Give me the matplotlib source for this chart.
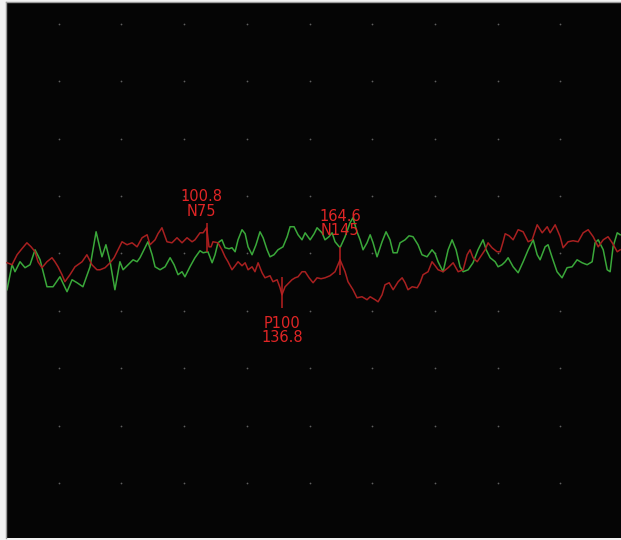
import numpy as np
import matplotlib.pyplot as plt

# -----------------------------
# Traces (latency in ms, amplitude in uV)
# -----------------------------
green_t = [5.3, 7.7, 9.1, 11.5, 13.9, 16.3, 18.7, 21.1, 24.4, 27.3, 30.6, 34.0, 36.4, 38.8,
           41.6, 45.0, 47.9, 50.7, 52.6, 54.6, 56.9, 59.3, 60.8, 63.2, 65.6, 67.5, 68.9, 70.8,
           72.7, 74.7, 76.1, 78.5, 80.9, 83.3, 85.2, 87.1, 89.0, 90.4, 92.8, 95.2, 97.6, 99.1,
           101.4, 103.4, 104.8, 106.2, 108.1, 109.6, 111.5, 112.9, 114.4, 115.8, 117.7, 119.2,
           120.6, 122.5, 124.4, 126.3, 127.8, 129.7, 131.1, 133.0, 134.9, 137.3, 139.3, 140.7,
           142.6, 144.5, 146.4, 147.9, 150.3, 152.2, 153.6, 156.0, 157.4, 159.3, 160.8, 162.2,
           164.6, 167.0, 169.4, 170.8, 172.7, 174.2, 175.6, 177.5, 179.0, 180.4, 182.3, 184.7,
           186.6, 188.5, 190.0, 191.9, 193.3, 195.7, 197.6, 199.5, 201.9, 203.8, 206.2, 208.6,
           210.1, 211.5, 213.9, 216.3, 218.2, 220.1, 222.0, 223.5, 225.9, 228.2, 230.6, 233.0,
           234.5, 236.4, 238.8, 240.2, 242.1, 243.6, 245.0, 247.4, 249.8, 252.2, 254.6, 257.0,
           258.9, 260.3, 262.7, 264.1, 266.1, 268.4, 270.8, 273.2, 275.6, 278.0, 280.4, 282.8,
           285.2, 286.6, 288.1, 290.5, 292.4, 293.8, 295.2, 297.2, 298.6]
green_v = [-3.17, -0.99, -1.60, -0.73, -1.25, -0.99, 0.31, -0.56, -2.91, -2.91, -2.04, -3.34,
           -2.30, -2.56, -2.91, -1.17, 1.88, -0.30, 0.75, -0.73, -3.17, -0.73, -1.43, -0.99,
           -0.56, -0.73, -0.38, 0.31, 1.01, -0.12, -1.17, -1.43, -1.17, -0.38, -0.99, -1.86,
           -1.60, -2.04, -1.17, -0.38, 0.23, 0.05, 0.14, -0.82, -0.12, 0.92, 1.18, 0.49, 0.40,
           0.49, 0.14, 1.18, 2.06, 1.71, 0.57, -0.12, 0.75, 1.88, 1.36, 0.31, -0.30, -0.12, 0.31,
           0.57, 1.45, 2.32, 2.32, 1.62, 1.18, 1.79, 1.18, 1.71, 2.23, 1.79, 1.18, 1.45, 1.79,
           1.01, 0.49, 1.45, 2.67, 3.10, 1.88, 1.18, 0.31, 0.92, 1.62, 0.92, -0.30, 1.01, 1.88,
           1.18, 0.05, 0.05, 0.92, 1.18, 1.53, 1.45, 0.75, -0.12, -0.30, 0.31, -0.03, -0.73,
           -1.60, 0.31, 1.18, 0.31, -1.17, -1.60, -1.43, -0.82, 0.31, 1.18, 0.31, -0.38, -0.73,
           -1.17, -0.99, -0.73, -0.38, -1.17, -1.69, -0.73, 0.31, 1.18, -0.12, -0.56, 0.57, 0.75,
           -0.38, -1.60, -2.13, -1.25, -1.17, -0.56, -0.82, -0.99, -0.73, 0.92, 1.18, 0.31,
           -1.43, -1.60, 0.57, 1.79, 1.62]

red_t = [5.3, 7.7, 10.1, 12.4, 14.8, 16.8, 18.7, 20.1, 22.0, 24.4, 26.8, 28.2, 29.7, 31.6,
         33.0, 35.4, 37.8, 39.2, 41.2, 43.5, 45.9, 48.3, 49.8, 52.2, 54.6, 56.5, 58.4, 60.3,
         62.7, 65.1, 67.5, 69.9, 72.3, 73.7, 76.1, 77.5, 79.4, 81.8, 84.2, 86.6, 89.0, 91.4,
         93.8, 95.2, 97.6, 99.1, 100.8, 101.9, 102.9, 103.8, 106.2, 108.1, 109.6, 111.0, 112.9,
         114.4, 115.8, 117.7, 119.2, 120.6, 122.5, 123.9, 125.4, 127.3, 128.7, 131.1, 132.5,
         134.5, 135.9, 136.8, 138.3, 139.7, 141.6, 143.1, 144.5, 146.4, 147.9, 149.8, 151.7,
         153.6, 155.5, 157.4, 159.8, 162.2, 164.6, 167.0, 168.4, 170.8, 172.7, 175.1, 177.5,
         179.0, 181.4, 182.8, 184.7, 186.1, 188.1, 190.0, 192.4, 194.3, 195.7, 197.1, 199.1,
         201.5, 202.9, 204.3, 206.7, 208.6, 210.1, 211.5, 213.9, 216.3, 218.7, 221.1, 223.5,
         225.4, 226.8, 228.2, 230.2, 232.1, 234.0, 235.4, 237.3, 239.7, 241.2, 242.6, 243.6,
         245.5, 247.4, 249.8, 252.2, 254.6, 256.5, 258.9, 261.3, 263.7, 265.1, 267.5, 269.9,
         271.3, 273.7, 276.1, 278.5, 280.9, 283.3, 285.7, 288.1, 290.5, 292.8, 294.8, 297.2,
         298.6]
red_v = [-0.82, -0.99, -0.12, 0.40, 0.92, 0.57, 0.14, -0.73, -1.25, -0.73, -0.38, -0.73,
         -1.17, -1.86, -2.47, -1.86, -1.17, -0.99, -0.73, -0.12, -0.99, -1.43, -1.43, -1.25,
         -0.82, -0.38, 0.31, 1.01, 0.75, 0.92, 0.57, 1.36, 1.62, 0.75, 1.18, 1.71, 2.23, 1.01,
         0.92, 1.36, 0.92, 1.36, 1.01, 1.18, 1.79, 1.79, 2.23, 0.57, 0.57, 1.01, 0.92, 0.31,
         -0.30, -0.73, -1.43, -1.08, -0.73, -1.08, -0.82, -1.43, -1.17, -1.60, -0.82, -1.69,
         -2.13, -1.95, -2.47, -2.30, -3.00, -3.61, -2.91, -2.65, -2.30, -2.13, -2.04, -1.60,
         -1.60, -2.13, -2.56, -2.13, -2.21, -2.13, -1.95, -1.60, -0.56, -1.60, -2.47, -3.17,
         -3.87, -3.78, -4.04, -3.78, -4.04, -4.22, -3.61, -2.74, -2.56, -3.17, -2.47, -2.13,
         -2.56, -3.17, -2.91, -3.00, -2.56, -1.86, -1.60, -0.73, -1.08, -1.43, -1.60, -1.25,
         -0.82, -1.60, -1.43, -0.12, 0.31, -0.38, -0.73, -0.21, 0.31, 0.92, 0.49, 0.14, 0.14,
         1.01, 1.71, 1.53, 1.18, 2.06, 1.88, 1.01, 1.18, 2.49, 1.79, 2.32, 1.79, 2.49, 1.45,
         0.49, 1.01, 1.10, 1.01, 1.79, 2.06, 1.45, 0.57, 1.18, 1.45, 0.92, 0.14, 0.31]

# Peak markers on the red trace
peak_names = ["N75", "P100", "N145"]
peak_lat = [100.8, 136.8, 164.6]
peak_top = [2.67, -2.04, 0.57]
peak_bot = [0.14, -4.74, -1.86]

# -----------------------------
# Figure
# -----------------------------
fig = plt.figure(figsize=(6.21, 5.40), dpi=100, facecolor="#f2f2f2")
ax = fig.add_axes([6 / 621, 2 / 540, 615 / 621, 536 / 540])
ax.set_facecolor("#050505")
ax.set_xlim(4.8, 299.0)
ax.set_ylim(-24.8, 21.9)

# dotted grid
gx, gy = np.meshgrid(np.arange(30, 300, 30), np.arange(-20, 21, 5))
ax.scatter(gx.ravel(), gy.ravel(), s=1.6, color="#5f5f5f", linewidths=0, zorder=1)

ax.plot(green_t, green_v, color="#3aa83a", lw=1.1, zorder=2,
        solid_joinstyle="round")
ax.plot(red_t, red_v, color="#a82020", lw=1.1, zorder=3,
        solid_joinstyle="round")

ax.vlines(peak_lat, peak_bot, peak_top, color="#b82020", lw=1.1, zorder=4)

# labels: (latency, name) stacked above or below the marker
txt_kw = dict(color="#e02525", fontsize=10.5, family="DejaVu Sans",
              ha="center", linespacing=0.95, zorder=5)
ax.annotate(f"{peak_lat[0]:.1f}\n{peak_names[0]}", (peak_lat[0], peak_top[0]),
            xytext=(-4, 3), textcoords="offset points", va="bottom", **txt_kw)
ax.annotate(f"{peak_lat[2]:.1f}\n{peak_names[2]}", (peak_lat[2], peak_top[2]),
            xytext=(0, 6), textcoords="offset points", va="bottom", **txt_kw)
ax.annotate(f"{peak_names[1]}\n{peak_lat[1]:.1f}", (peak_lat[1], peak_bot[1]),
            xytext=(0, -6), textcoords="offset points", va="top", **txt_kw)

ax.set_xticks([])
ax.set_yticks([])
for side in ["right", "bottom"]:
    ax.spines[side].set_visible(False)
for side in ["left", "top"]:
    ax.spines[side].set_color("#9a9a9a")
    ax.spines[side].set_linewidth(1.0)

fig.savefig("out.png", dpi=100, facecolor=fig.get_facecolor())
